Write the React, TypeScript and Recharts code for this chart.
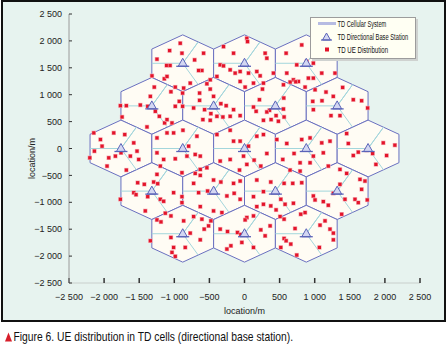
import React from 'react';
import { ScatterChart, Scatter, XAxis, YAxis, Label } from 'recharts';

// ---- data ----
const cellX = [-880, 0, 880, -1320, -440, 440, 1320, -1760, -880, 0, 880, 1760, -1320, -440, 440, 1320, -880, 0, 880];
const cellY = [1584, 1584, 1584, 792, 792, 792, 792, 0, 0, 0, 0, 0, -792, -792, -792, -792, -1584, -1584, -1584];
const HEX_HALF_WIDTH = 440; // m
const HEX_RADIUS = 528; // m (centre to top vertex)
const axisTicks = [-2500, -2000, -1500, -1000, -500, 0, 500, 1000, 1500, 2000, 2500];
const legendLabels = ['TD Cellular System', 'TD Directional Base Station', 'TD UE Distribution'];
const captionText = 'Figure 6. UE distribution in TD cells (directional base station).';
const axisTitle = 'location/m';

const uePoints: [number, number][] = [
  // top row
  [-915, 1956], [-1067, 1820], [-891, 1771], [-1247, 1660], [-1110, 1543], [-1060, 1543], [-711, 1647], [-583, 1771], [-607, 1450], [-654, 1450], [-1318, 1351], [-1142, 1296], [-1104, 1339], [-986, 1141], [-867, 1123], [-773, 1215], [-488, 1277], [-536, 1203],
  [33, 2048], [43, 1987], [-299, 1894], [-156, 1771], [294, 1771], [318, 1678], [-346, 1555], [-299, 1536], [-204, 1462], [-133, 1401], [-62, 1431], [57, 1401], [175, 1431], [223, 1351], [412, 1401], [-393, 1339], [-62, 1246], [128, 1215], [270, 1215], [9, 1141],
  [815, 1925], [593, 1771], [744, 1555], [886, 1617], [981, 1586], [602, 1401], [697, 1277], [768, 1246], [910, 1308], [981, 1308], [1100, 1401], [1289, 1401], [555, 1185], [863, 1141], [1005, 1092], [650, 1235], [730, 1240],
  // second row
  [-1285, 1141], [-1048, 1055], [-882, 1030], [-1341, 969], [-929, 876], [-1768, 796], [-1683, 796], [-1484, 808], [-1379, 784], [-1270, 691], [-986, 784], [-882, 784], [-1744, 586], [-1213, 598], [-1138, 475], [-1389, 401], [-1033, 475], [-1104, 537],
  [-488, 1104], [-640, 1030], [-640, 895], [-441, 969], [-725, 753], [-569, 722], [-479, 648], [-393, 598], [-308, 586], [-204, 598], [-156, 722], [-62, 611], [-337, 833], [-261, 796], [-593, 537], [-488, 524],
  [555, 734], [450, 611], [356, 710], [318, 679], [270, 524], [379, 537], [483, 506], [564, 586], [166, 691], [128, 771], [213, 907], [256, 1104], [559, 938],
  [1398, 1135], [1550, 907], [1668, 888], [972, 876], [981, 722], [1104, 888], [1232, 611], [1360, 611], [1754, 753], [1161, 1049], [1265, 969],
  // middle row
  [-2147, 290], [-2052, 167], [-1863, 290], [-1706, 259], [-1578, 105], [-2029, 43], [-2138, -49], [-1934, -173], [-1839, -142], [-1759, -80], [-1626, -142], [-1531, -49], [-1507, -204], [-1958, -327], [-1683, -401], [-2204, -173],
  [-1247, 197], [-1104, 290], [-1010, 290], [-877, 339], [-678, 228], [-796, 43], [-702, -111], [-630, -142], [-820, -142], [-986, -191], [-1152, -204], [-1247, -80], [-1199, -327], [-891, -450], [-630, -389], [-536, -358],
  [-393, 259], [-204, 339], [-156, 136], [-62, 136], [57, 43], [175, 228], [270, 259], [-346, -234], [-204, -204], [-14, -142], [33, -296], [137, -216], [232, -327], [-71, -401], [318, -93],
  [460, 167], [602, 93], [706, -93], [815, 167], [934, 197], [1100, 105], [1218, 136], [1123, -80], [981, -142], [934, -265], [792, -265], [545, -204], [649, -401], [792, -420], [1194, -327],
  [1455, 278], [1479, 93], [1977, 105], [2142, 62], [2024, -130], [1872, -296], [1740, -31], [1621, -68], [1825, -93], [1550, -130],
  // fourth row
  [-1522, -636], [-1427, -666], [-1294, -623], [-1237, -654], [-1578, -821], [-1545, -858], [-1768, -944], [-1379, -895], [-1199, -944], [-1152, -981], [-1010, -821], [-891, -895], [-891, -1006], [-1413, -1160], [-1247, -481],
  [-702, -463], [-630, -500], [-725, -648], [-441, -586], [-337, -623], [-156, -648], [-62, -605], [-654, -821], [-526, -790], [-251, -882], [-147, -833], [-630, -1080], [-441, -1160], [-322, -1191], [-62, -944],
  [175, -586], [374, -623], [564, -648], [687, -648], [815, -636], [270, -802], [128, -895], [517, -944], [578, -1037], [270, -1037], [374, -1067], [175, -1080], [450, -1141], [697, -1018],
  [1360, -389], [1455, -463], [1360, -666], [1266, -833], [1645, -574], [1716, -605], [1668, -759], [1749, -956], [1574, -944], [1621, -1006], [981, -882], [1005, -956], [1123, -987], [1194, -1055], [1431, -944], [1384, -1222],
  // bottom row
  [-1247, -1327], [-1190, -1364], [-1128, -1203], [-1048, -1253], [-867, -1345], [-725, -1265], [-607, -1314], [-574, -1499], [-512, -1438], [-1341, -1715], [-1048, -1654], [-773, -1573], [-1010, -1839], [-844, -1839], [-1033, -1931], [-986, -2005], [-630, -1697],
  [-346, -1499], [-242, -1543], [-100, -1561], [-52, -1598], [33, -1283], [128, -1253], [232, -1512], [294, -1623], [365, -1438], [-479, -1345], [-194, -1808], [-38, -1746], [128, -1839], [-251, -1869], [9, -1327],
  [507, -1265], [564, -1314], [720, -1487], [801, -1222], [863, -1191], [1076, -1425], [1147, -1345], [1218, -1499], [1266, -1573], [564, -1672], [659, -1777], [593, -1715], [744, -1981], [1067, -1839], [1266, -1697], [517, -1839],
];

// ---- derived tables ----
const W = HEX_HALF_WIDTH;
const R = HEX_RADIUS;
const hexOutline = (cx: number, cy: number) => [
  { x: cx, y: cy + R },
  { x: cx + W, y: cy + R / 2 },
  { x: cx + W, y: cy - R / 2 },
  { x: cx, y: cy - R },
  { x: cx - W, y: cy - R / 2 },
  { x: cx - W, y: cy + R / 2 },
  { x: cx, y: cy + R },
];
const sectorLines = (cx: number, cy: number) => [
  { x: cx - W, y: cy },
  { x: cx, y: cy },
  { x: cx + W / 2, y: cy + (3 * R) / 4 },
  { x: cx, y: cy },
  { x: cx + W / 2, y: cy - (3 * R) / 4 },
];
const stations = cellX.map((x, i) => ({ x, y: cellY[i] }));
const ueData = uePoints.map(([x, y]) => ({ x, y }));

const fmtTick = (v: number) => {
  if (v === 0) return '0';
  const a = Math.abs(v);
  const s = a >= 1000 ? `${Math.floor(a / 1000)} ${String(a % 1000).padStart(3, '0')}` : String(a);
  return (v < 0 ? '\u2212' : '') + s;
};

const FONT = '"Liberation Sans", Arial, sans-serif';
const HEX_STROKE = '#6a70c0';
const SECTOR = '#a3d6dc';
const RED = '#e3142a';

const Empty = () => <g />;
const UeMark = (p: any) => (
  <g>
    <rect x={p.cx - 2.2} y={p.cy - 2.2} width={4.4} height={4.4} fill="#f5a8b0" />
    <rect x={p.cx - 1.6} y={p.cy - 1.6} width={3.2} height={3.2} fill={RED} />
  </g>
);
const StationMark = (p: any) => {
  const { cx, cy } = p;
  return (
    <g>
      <path d={`M${cx},${cy - 5} L${cx + 4.5},${cy + 3} L${cx - 4.5},${cy + 3} Z`} fill="#d3d7f2" stroke="#5a63b8" strokeWidth={1} />
      <line x1={cx - 6.5} x2={cx + 6.5} y1={cy + 3} y2={cy + 3} stroke="#5a63b8" strokeWidth={1.3} />
    </g>
  );
};

const YTitle = (props: any) => {
  const vb = props.viewBox || { x: 0, y: 14, width: 69, height: 269 };
  const cx = vb.x + 32;
  const cy = vb.y + vb.height / 2 + 10;
  return (
    <text transform={`translate(${cx},${cy}) rotate(-90)`} textAnchor="middle" dominantBaseline="central" fontSize={9} fontFamily={FONT} fill="#222">
      {axisTitle}
    </text>
  );
};

const LegendText = ({ y, text, scale }: { y: number; text: string; scale: number }) => (
  <text transform={`translate(26.5,${y}) scale(${scale},1)`} x={0} y={0} fontSize={9} fontFamily={FONT} fill="#111">
    {text}
  </text>
);

export default function App() {
  return (
    <div style={{ position: 'absolute', left: 0, top: 0, width: 446, height: 344, background: '#ffffff', overflow: 'hidden' }}>
      <div style={{ position: 'absolute', left: 1, top: 0, width: 445, height: 322, boxSizing: 'border-box', border: '2px solid #111', background: '#e7f3ef' }} />
      <div style={{ position: 'absolute', left: 0, top: 0 }}>
        <ScatterChart width={446} height={322} margin={{ top: 14, right: 26, bottom: 0, left: 0 }}>
          <XAxis
            type="number"
            dataKey="x"
            domain={[-2500, 2500]}
            ticks={axisTicks}
            tickFormatter={fmtTick}
            height={39}
            tickSize={-5}
            tickMargin={16}
            axisLine={{ stroke: '#c9cfcc' }}
            tickLine={{ stroke: '#333', strokeWidth: 1.5 }}
            tick={{ fontSize: 9, fill: '#222', fontFamily: FONT }}
            interval={0}
          >
            <Label value={axisTitle} position="insideBottom" offset={8} fontSize={9} fontFamily={FONT} fill="#222" />
          </XAxis>
          <YAxis
            type="number"
            dataKey="y"
            domain={[-2500, 2500]}
            ticks={axisTicks}
            tickFormatter={fmtTick}
            width={69}
            tickSize={-3}
            tickMargin={10}
            axisLine={{ stroke: '#9a9a9a' }}
            tickLine={{ stroke: '#333', strokeWidth: 1 }}
            tick={{ fontSize: 9, fill: '#222', fontFamily: FONT }}
            interval={0}
          >
            <Label content={YTitle} position="center" />
          </YAxis>
          {cellX.map((cx, i) => (
            <Scatter
              key={`hex${i}`}
              data={hexOutline(cx, cellY[i])}
              line={{ stroke: HEX_STROKE, strokeWidth: 1, fill: '#fffcf4' }}
              shape={Empty}
              isAnimationActive={false}
              legendType="none"
            />
          ))}
          {cellX.map((cx, i) => (
            <Scatter
              key={`sec${i}`}
              data={sectorLines(cx, cellY[i])}
              line={{ stroke: SECTOR, strokeWidth: 1, fill: 'none' }}
              shape={Empty}
              isAnimationActive={false}
              legendType="none"
            />
          ))}
          <Scatter name={legendLabels[2]} data={ueData} shape={UeMark} isAnimationActive={false} />
          <Scatter name={legendLabels[1]} data={stations} shape={StationMark} isAnimationActive={false} />
        </ScatterChart>
      </div>
      {/* legend */}
      <div style={{ position: 'absolute', left: 310, top: 17, width: 106, height: 42, boxSizing: 'border-box', background: '#fffff3', border: '1px solid #9c9c9c', boxShadow: '2px 2px 0 #cfd2d0' }}>
        <svg width={104} height={40} style={{ display: 'block' }}>
          <line x1={7} x2={25} y1={5.5} y2={5.5} stroke="#b7bce2" strokeWidth={3} />
          <path d="M15.5,15 L19.5,22 L11.5,22 Z" fill="#d3d7f2" stroke="#5a63b8" strokeWidth={1} />
          <line x1={10} x2={21} y1={22} y2={22} stroke="#5a63b8" strokeWidth={1.2} />
          <rect x={14} y={29.5} width={4} height={4} fill={RED} />
          <LegendText y={9} text={legendLabels[0]} scale={0.63} />
          <LegendText y={22} text={legendLabels[1]} scale={0.64} />
          <LegendText y={35} text={legendLabels[2]} scale={0.68} />
        </svg>
      </div>
      {/* caption */}
      <svg width={446} height={22} style={{ position: 'absolute', left: 0, top: 322 }}>
        <path d="M8.5,10.5 L12,19.5 L5,19.5 Z" fill="#d81e2a" />
        <text transform="translate(13.5,19.3) scale(0.86,1)" x={0} y={0} fontSize={12} fontFamily={FONT} fill="#111">{captionText}</text>
      </svg>
    </div>
  );
}
